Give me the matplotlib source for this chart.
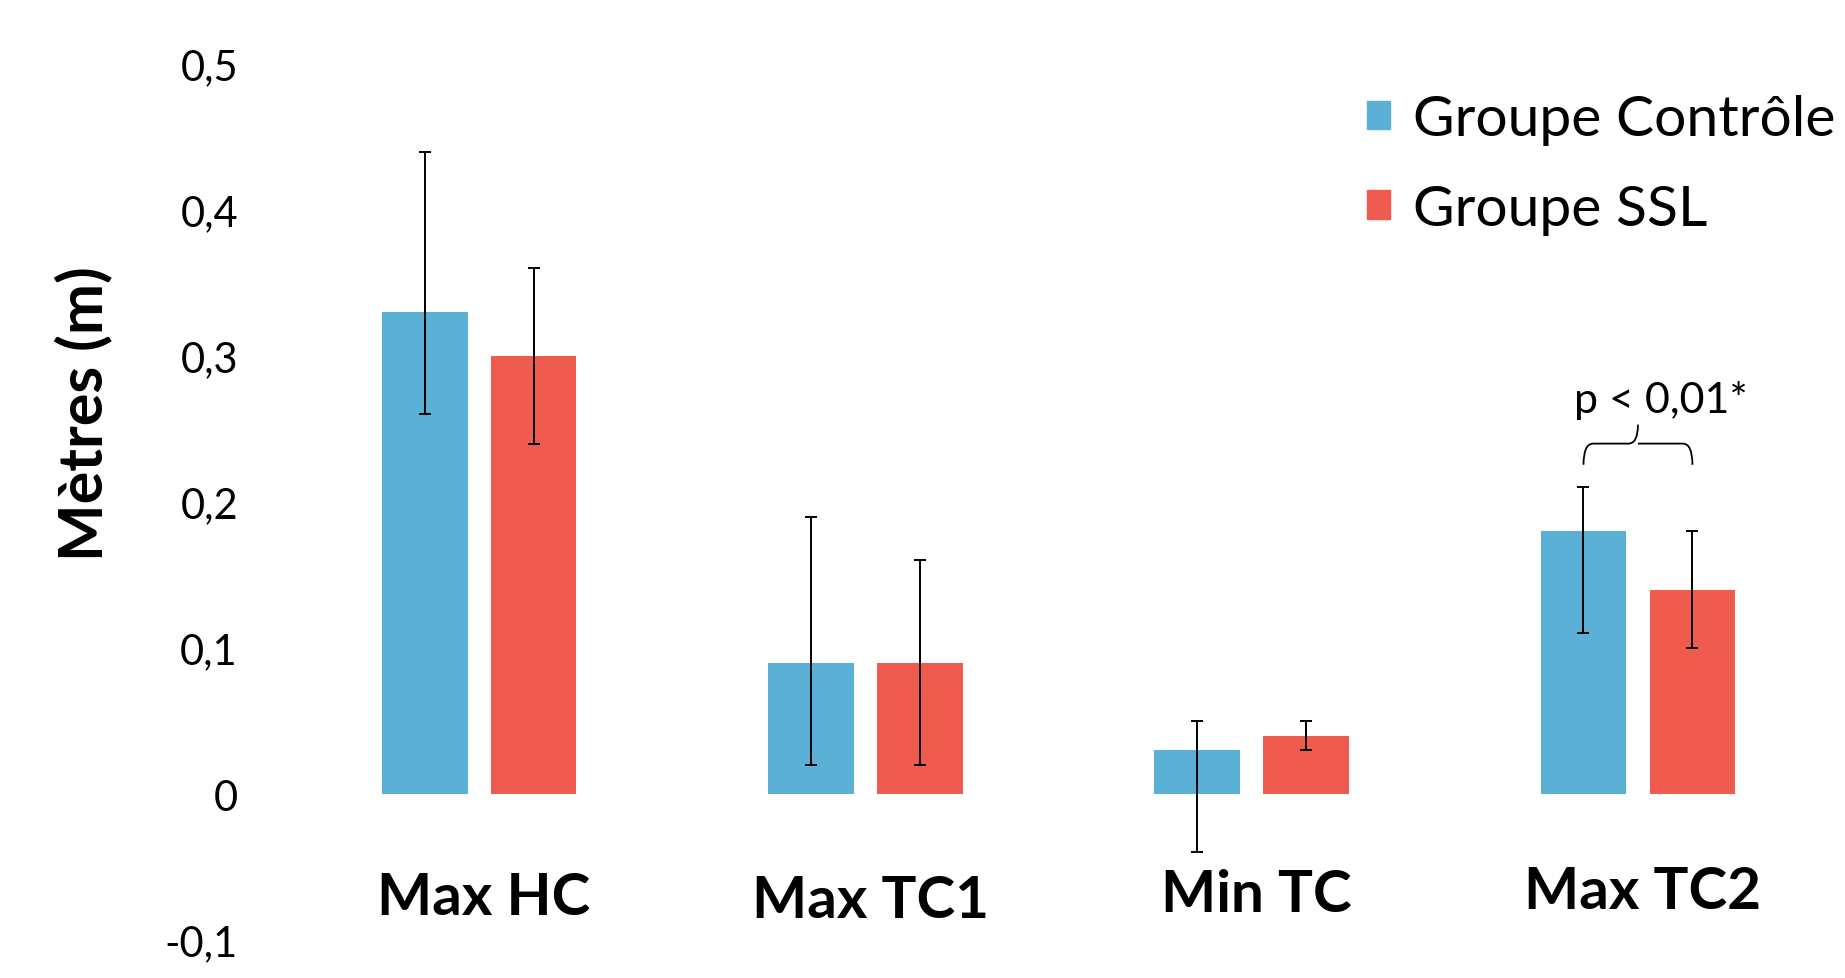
import matplotlib
matplotlib.use("Agg")
import matplotlib.pyplot as plt
import numpy as np
from matplotlib.path import Path
from matplotlib.patches import PathPatch, Patch

# données
categories = ["Max HC", "Max TC1", "Min TC", "Max TC2"]
series_names = ["Groupe Contrôle", "Groupe SSL"]
controle = [0.33, 0.09, 0.03, 0.18]
controle_low = [0.26, 0.02, -0.04, 0.11]
controle_high = [0.44, 0.19, 0.05, 0.21]
ssl = [0.30, 0.09, 0.04, 0.14]
ssl_low = [0.24, 0.02, 0.03, 0.10]
ssl_high = [0.36, 0.16, 0.05, 0.18]
yticks = [-0.1, 0, 0.1, 0.2, 0.3, 0.4, 0.5]
ytick_labels = ["-0,1", "0", "0,1", "0,2", "0,3", "0,4", "0,5"]
label_y = [-0.071, -0.073, -0.069, -0.067]
significance = "p < 0,01*"

blue = "#5BB1D5"
red = "#EF5B4F"
text_font = ["Lato", "DejaVu Sans"]

fig = plt.figure(figsize=(18.45, 9.79), dpi=100)
ax = fig.add_axes([0.141, 0.0388, 0.859, 0.8948])

x = np.arange(len(categories))
w = 0.222
off = 0.141

err_c = [np.array(controle) - np.array(controle_low), np.array(controle_high) - np.array(controle)]
err_s = [np.array(ssl) - np.array(ssl_low), np.array(ssl_high) - np.array(ssl)]
ekw = dict(elinewidth=1.4, capthick=1.4, ecolor="black")

ax.bar(x - off, controle, w, color=blue, yerr=err_c, capsize=4.3, error_kw=ekw)
ax.bar(x + off, ssl, w, color=red, yerr=err_s, capsize=4.3, error_kw=ekw)

ax.set_xlim(-0.567, 3.536)
ax.set_ylim(-0.1, 0.5)
ax.set_yticks(yticks)
ax.set_yticklabels(ytick_labels, fontsize=30, family=text_font)
ax.tick_params(axis="y", length=0, pad=16)
ax.set_xticks([])
for s in ax.spines.values():
    s.set_visible(False)

for i, cat in enumerate(categories):
    ax.text(x[i] + 0.012, label_y[i], cat, ha="center", va="center",
            fontsize=42, fontweight="bold", family=text_font)

fig.text(0.045, 0.577, "Mètres (m)", rotation=90, ha="center", va="center",
         fontsize=44, fontweight="bold", family=text_font)

# accolade de significativité
x0, x1 = x[3] - off, x[3] + off
xm = (x0 + x1) / 2
yb, yh, yt = 0.2255, 0.240, 0.253
r = 0.025
verts = [(x0, yb), (x0, yh), (x0 + r, yh), (xm - r, yh), (xm, yh), (xm, yt),
         (xm, yh), (xm + r, yh), (x1 - r, yh), (x1, yh), (x1, yb)]
codes = [Path.MOVETO, Path.CURVE3, Path.CURVE3, Path.LINETO, Path.CURVE3, Path.CURVE3,
         Path.MOVETO, Path.CURVE3, Path.LINETO, Path.CURVE3, Path.CURVE3]
ax.add_patch(PathPatch(Path(verts, codes), fill=False, lw=1.3, color="black"))
ax.text(xm + 0.06, 0.257, significance, ha="center", va="bottom", fontsize=31, family=text_font)

handles = [Patch(color=blue), Patch(color=red)]
fig.legend(handles, series_names, loc="upper left", bbox_to_anchor=(0.713, 0.955),
           frameon=False, prop={"family": text_font, "size": 41},
           handlelength=0.4, handleheight=0.4, handletextpad=0.42, labelspacing=0.68)

fig.savefig("out.png", dpi=100)
